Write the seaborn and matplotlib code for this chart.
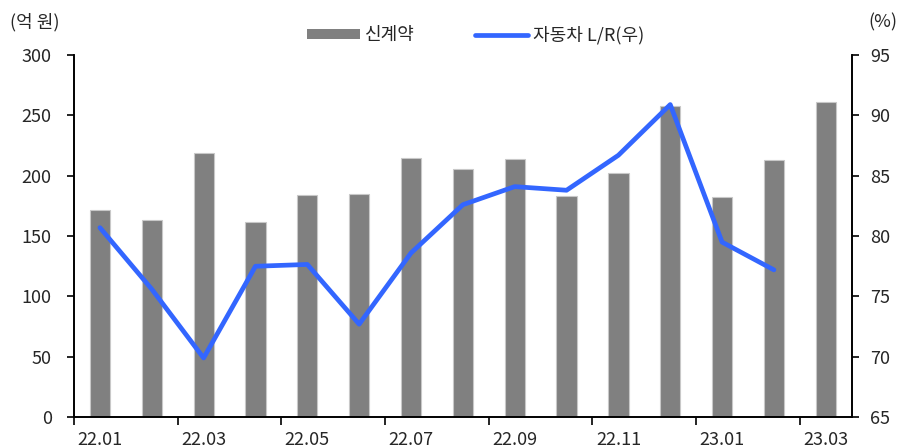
import matplotlib
matplotlib.use("Agg")
import matplotlib.pyplot as plt
from matplotlib.patches import Patch
from matplotlib.lines import Line2D
import seaborn as sns
import pandas as pd
import numpy as np

# Monthly new contracts (억 원) and auto insurance loss ratio (%)
months = ["22.01", "22.02", "22.03", "22.04", "22.05", "22.06", "22.07", "22.08",
          "22.09", "22.10", "22.11", "22.12", "23.01", "23.02", "23.03"]
new_contracts = [172, 163, 219, 162, 184, 185, 215, 206, 214, 183, 202, 258, 182, 213, 261]
lr_months = months[:14]
loss_ratio = [80.7, 75.6, 69.9, 77.5, 77.65, 72.7, 78.6, 82.6, 84.1, 83.8, 86.7, 90.9, 79.5, 77.2]

bar_label = "신계약"
line_label = "자동차 L/R(우)"

sns.set_theme(style="white")
plt.rcParams["font.family"] = ["Noto Sans CJK KR", "DejaVu Sans"]

bars_df = pd.DataFrame({"month": months, "value": new_contracts})
line_df = pd.DataFrame({"month": lr_months, "value": loss_ratio})

fig = plt.figure(figsize=(9.08, 4.48), dpi=100)
ax = fig.add_axes([0.0815, 0.069, 0.8565, 0.808])

bar_color = "#808080"
line_color = "#3366FF"
fs = 13

sns.barplot(data=bars_df, x="month", y="value", order=months, color=bar_color,
            width=0.39, edgecolor="#c8c8c8", linewidth=0.8, saturation=1, ax=ax)

ax2 = ax.twinx()
sns.lineplot(data=line_df, x="month", y="value", color=line_color, linewidth=3.4,
             ax=ax2, solid_capstyle="round", solid_joinstyle="round")

ax.set_xlim(-0.5, len(months) - 0.5)
ax.set_ylim(0, 300)
ax.set_yticks(np.arange(0, 301, 50))
ax2.set_ylim(65, 95)
ax2.set_yticks(np.arange(65, 96, 5))

# labels on every other month, tick marks on category boundaries
label_pos = np.arange(0, len(months), 2)
ax.set_xticks(label_pos)
ax.set_xticklabels(months[::2])
ax.set_xticks(label_pos - 0.5, minor=True)

for a in (ax, ax2):
    a.set_xlabel("")
    a.set_ylabel("")
    for s in a.spines.values():
        s.set_color("black")
        s.set_linewidth(1.2)
    a.spines["top"].set_visible(False)

ax.tick_params(axis="x", which="major", length=0, labelsize=fs, pad=10, bottom=True)
ax.tick_params(axis="x", which="minor", direction="out", length=6, width=1.2,
               color="black", bottom=True)
ax.tick_params(axis="y", direction="out", length=5, width=1.2, color="black",
               labelsize=fs, pad=11, left=True)
ax2.tick_params(axis="y", direction="out", length=5, width=1.2, color="black",
                labelsize=fs, pad=8, right=True)

fig.text(0.011, 0.95, "(억 원)", fontsize=fs, ha="left", va="center")
fig.text(0.988, 0.95, "(%)", fontsize=fs, ha="right", va="center")

handles = [Patch(facecolor=bar_color, edgecolor="none"),
           Line2D([0], [0], color=line_color, linewidth=3.4, solid_capstyle="round")]
fig.legend(handles, [bar_label, line_label], loc="center", ncol=2,
           bbox_to_anchor=(0.524, 0.922), frameon=False, fontsize=fs,
           handlelength=2.9, handleheight=0.45, handletextpad=0.3, columnspacing=3.35)

fig.savefig("out.png", dpi=100)
